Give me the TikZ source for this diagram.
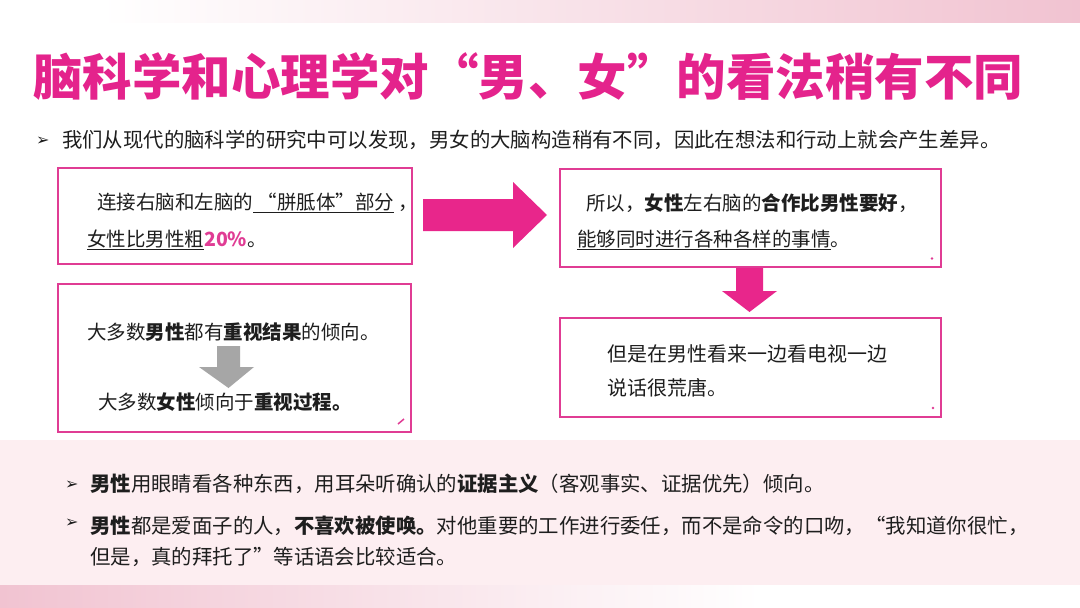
\documentclass[tikz,border=0pt]{standalone}
\usepackage{fontspec}
\setmainfont{Noto Sans CJK SC}
\newfontfamily\dv{DejaVu Sans}
\definecolor{titlepink}{HTML}{E4238C}
\definecolor{boxpink}{HTML}{E03C94}
\definecolor{arrowpink}{HTML}{E8268B}
\definecolor{bandpink}{HTML}{F1C3D1}
\definecolor{panelpink}{HTML}{FDEEF1}
\definecolor{textc}{HTML}{1E1E1E}
\definecolor{graya}{HTML}{A6A6A6}
\tikzset{
  box/.style={draw=boxpink, line width=2.2pt, fill=white, inner sep=0pt},
  txt/.style={anchor=west, inner sep=0pt, text=textc, font=\fontsize{19.5}{23}\selectfont},
  wide/.style={txt, font=\fontsize{20.4}{24}\selectfont},
  bul/.style={anchor=west, inner sep=0pt, text=textc, font=\dv\fontsize{16}{18}\selectfont},
}
\begin{document}
\begin{tikzpicture}[x=1pt,y=-1pt]
\useasboundingbox (0,0) rectangle (1080,608);
% backgrounds
\fill[white] (0,0) rectangle (1080,608);
\shade[left color=white, right color=bandpink] (100,0) rectangle (1080,22);
\fill[panelpink] (0,440) rectangle (1080,585);
\shade[left color=bandpink, right color=white] (0,585) rectangle (760,608);
\fill[white] (760,585) rectangle (1080,608);
% title
\node[anchor=west, inner sep=0pt, text=titlepink, font=\bfseries\fontsize{49.5}{52}\selectfont] (title) at (33,76) {脑科学和心理学对“男、女”的看法稍有不同};
% intro
\node[bul] (b0) at (36,141) {➢};
\node[wide] (intro) at (62,140) {我们从现代的脑科学的研究中可以发现，男女的大脑构造稍有不同，因此在想法和行动上就会产生差异。};
% boxes
\node[box, anchor=north west, minimum width=354pt, minimum height=96pt] (box1) at (57,167) {};
\node[box, anchor=north west, minimum width=381pt, minimum height=98pt] (box2) at (559,168) {};
\node[box, anchor=north west, minimum width=353pt, minimum height=148pt] (box3) at (57,283) {};
\node[box, anchor=north west, minimum width=381pt, minimum height=99pt] (box4) at (559,317) {};
% box1 text
\node[txt] (t11) at (97,203) {连接右脑和左脑的\underline{ “胼胝体”部分} ，};
\node[txt] (t12) at (87,240) {\underline{女性比男性粗}\textcolor{boxpink}{\bfseries 20\%}。};
% box2 text
\node[txt] (t21) at (586,203) {所以，\textbf{女性}左右脑的\textbf{合作比男性要好}，};
\node[txt] (t22) at (577,240) {\underline{能够同时进行各种各样的事情}。};
% box3 text
\node[txt] (t31) at (87,332) {大多数\textbf{男性}都有\textbf{重视结果}的倾向。};
\node[txt] (t32) at (98,402) {大多数\textbf{女性}倾向于\textbf{重视过程。}};
% box4 text
\node[txt, font=\fontsize{20}{23}\selectfont] (t41) at (607,354) {但是在男性看来一边看电视一边};
\node[txt, font=\fontsize{20}{23}\selectfont] (t42) at (607,388) {说话很荒唐。};
% big right arrow
\fill[arrowpink] (423,199) -- (513,199) -- (513,182) -- (547,215) -- (513,248) -- (513,231) -- (423,231) -- cycle;
% pink down arrow
\fill[arrowpink] (736,268) -- (763,268) -- (763,291) -- (777,291) -- (749.5,312) -- (722,291) -- (736,291) -- cycle;
% gray down arrow
\fill[graya] (217,346) -- (240,346) -- (240,367) -- (254,367) -- (228.5,388) -- (199,367) -- (217,367) -- cycle;
% small marks
\fill[boxpink] (932,258.5) circle (1.3pt);
\fill[boxpink] (933,408) circle (1.3pt);
\draw[boxpink, line width=1.5pt] (398,424) -- (404,419);
% bottom bullets
\node[bul] (b1) at (65,485) {➢};
\node[wide] (p1) at (90,484) {\textbf{男性}用眼睛看各种东西，用耳朵听确认的\textbf{证据主义}（客观事实、证据优先）倾向。};
\node[bul] (b2) at (65,523) {➢};
\node[wide] (p2) at (90,526) {\textbf{男性}都是爱面子的人，\textbf{不喜欢被使唤。}对他重要的工作进行委任，而不是命令的口吻，“我知道你很忙，};
\node[wide] (p3) at (90,557) {但是，真的拜托了”等话语会比较适合。};
\end{tikzpicture}
\end{document}
